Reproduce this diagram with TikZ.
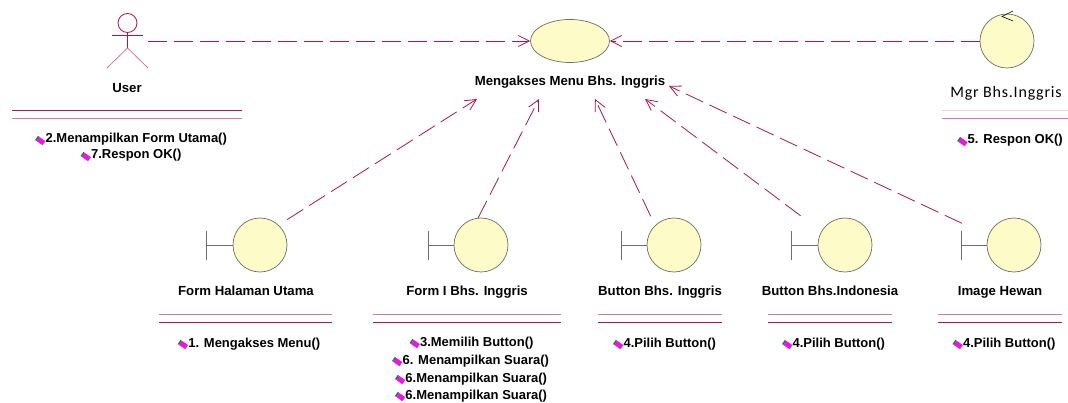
\documentclass[tikz,border=0pt]{standalone}
\usepackage{fontspec}
\usepackage{graphicx}
\setmainfont{Liberation Sans}
\newfontfamily\calibrifont{Carlito}
\usetikzlibrary{arrows.meta,shapes.geometric}
\definecolor{crim}{RGB}{172,24,70}
\definecolor{crimlight}{RGB}{214,120,152}
\definecolor{ucfill}{RGB}{253,252,200}
\definecolor{edgegray}{RGB}{110,110,100}
\definecolor{bargray}{RGB}{110,110,110}
\definecolor{iconmag}{RGB}{235,20,235}
\definecolor{icongreen}{RGB}{20,130,40}
\newcommand\opicon{\raisebox{3pt}{\rotatebox{-35}{\textcolor{icongreen}{\rule{1.6pt}{5pt}}\textcolor{iconmag}{\rule{7.5pt}{5pt}}}}\hspace{0.2pt}}
\tikzset{
  lbl/.style={font=\fontsize{13.2}{15}\selectfont\bfseries, anchor=base, inner sep=0pt},
  oplbl/.style={font=\fontsize{13}{15}\selectfont\bfseries, anchor=base, inner sep=0pt},
  dep/.style={draw=crim, line width=0.8pt, dash pattern=on 19pt off 7pt, -{Straight Barb[length=11pt,width=11pt]}},
  bcircle/.style={circle, draw=edgegray, fill=ucfill, minimum size=54pt, inner sep=0pt, line width=0.7pt},
  bbar/.style={draw=bargray, line width=0.9pt},
  sepdark/.style={draw=crim, line width=0.9pt},
  seplight/.style={draw=crimlight, line width=0.9pt},
  actorline/.style={draw=crim, line width=0.8pt},
  actorleg/.style={draw=crimlight, line width=0.8pt}
}
\begin{document}
\begin{tikzpicture}[x=1pt,y=-1pt]
\fill[white] (0,0) rectangle (1068,403);
\useasboundingbox (0,0) rectangle (1068,403);

% ---------- User actor ----------
\node[minimum width=40pt, minimum height=60pt, inner sep=0pt] (user) at (128,41) {};
\draw[actorline] (127.5,23) circle (9.5pt);
\draw[actorline] (112,35) -- (143,35);
\draw[actorline] (127.5,33) -- (127.5,48);
\draw[actorleg] (127.5,48) -- (107,68);
\draw[actorleg] (127.5,48) -- (148,68);
\node[lbl] (userlbl) at (127,93) {User};
\draw[sepdark] (12,110) -- (242,110);
\draw[seplight] (12,118) -- (242,118);
\node[oplbl] (userop1) at (131,143) {\opicon2.Menampilkan Form Utama()};
\node[oplbl] (userop2) at (131,159) {\opicon7.Respon OK()};

% ---------- Use case ----------
\node[ellipse, draw=edgegray, fill=ucfill, minimum width=79pt, minimum height=43pt, inner sep=0pt, line width=0.7pt] (uc) at (570,41) {};
\node[lbl] (uclbl) at (570,86) {Mengakses Menu Bhs. Inggris};

% ---------- Control Mgr ----------
\node[bcircle] (mgr) at (1007,41) {};
\draw[black, line width=0.6pt] (1013,11) -- (1002,16.5) -- (1013,21);
\node[font=\calibrifont\fontsize{16}{18}\selectfont\addfontfeature{LetterSpace=5}, anchor=base, inner sep=0pt] (mgrlbl) at (1006,98) {Mgr Bhs.Inggris};
\draw[seplight, draw opacity=0.35] (942,110) -- (1068,110);
\draw[seplight] (942,118) -- (1068,118);
\node[oplbl] (mgrop) at (1010,144) {\opicon5. Respon OK()};

% ---------- Boundaries ----------
% Form Halaman Utama
\node[bcircle] (fhu) at (260,245) {};
\draw[bbar] (206,231) -- (206,260);
\draw[bbar] (206,245) -- (fhu.west);
\node[lbl] (fhulbl) at (246,296) {Form Halaman Utama};
\draw[seplight] (159,314) -- (332,314);
\draw[sepdark] (159,322) -- (332,322);
\node[oplbl] (fhuop) at (249,347) {\opicon1. Mengakses Menu()};

% Form I Bhs. Inggris
\node[bcircle] (fi) at (481,245) {};
\draw[bbar] (428,231) -- (428,260);
\draw[bbar] (428,245) -- (fi.west);
\node[lbl] (filbl) at (467,296) {Form I Bhs. Inggris};
\draw[seplight] (373,314) -- (561,314);
\draw[sepdark] (373,322) -- (561,322);
\node[oplbl] (fiop1) at (471.5,346) {\opicon3.Memilih Button()};
\node[oplbl] (fiop2) at (470.5,364) {\opicon6. Menampilkan Suara()};
\node[oplbl] (fiop3) at (471,382) {\opicon6.Menampilkan Suara()};
\node[oplbl] (fiop4) at (471,399) {\opicon6.Menampilkan Suara()};

% Button Bhs. Inggris
\node[bcircle] (bbi) at (674,245) {};
\draw[bbar] (621,231) -- (621,260);
\draw[bbar] (621,245) -- (bbi.west);
\node[lbl] (bbilbl) at (660,296) {Button Bhs. Inggris};
\draw[seplight] (598,314) -- (722,314);
\draw[sepdark] (598,322) -- (722,322);
\node[oplbl] (bbiop) at (664.5,347) {\opicon4.Pilih Button()};

% Button Bhs.Indonesia
\node[bcircle] (bbind) at (845,245) {};
\draw[bbar] (791,231) -- (791,260);
\draw[bbar] (791,245) -- (bbind.west);
\node[lbl] (bbindlbl) at (830,296) {Button Bhs.Indonesia};
\draw[seplight] (768,314) -- (892,314);
\draw[sepdark] (768,322) -- (892,322);
\node[oplbl] (bbindop) at (833.5,347) {\opicon4.Pilih Button()};

% Image Hewan
\node[bcircle] (ih) at (1014,245) {};
\draw[bbar] (961,231) -- (961,260);
\draw[bbar] (961,245) -- (ih.west);
\node[lbl] (ihlbl) at (1000,296) {Image Hewan};
\draw[seplight] (938,314) -- (1062,314);
\draw[sepdark] (938,322) -- (1062,322);
\node[oplbl] (ihop) at (1004,347) {\opicon4.Pilih Button()};

% ---------- Connectors ----------
\coordinate (t1) at (477,99);
\coordinate (t2) at (539,99);
\coordinate (t3) at (595,99);
\coordinate (t4) at (645,99);
\coordinate (t5) at (669,86);

\draw[dep] (user.east) -- (uc.west);
\draw[dep] (mgr.west) -- (uc.east);
\draw[dep, shorten <=10pt] (fhu.47) -- (t1);
\draw[dep] (fi.96) -- (t2);
\draw[dep, shorten <=10pt] (bbi.134) -- (t3);
\draw[dep, shorten <=26pt] (bbind.150) -- (t4);
\draw[dep, shorten <=29pt] (ih.160) -- (t5);
\end{tikzpicture}
\end{document}
